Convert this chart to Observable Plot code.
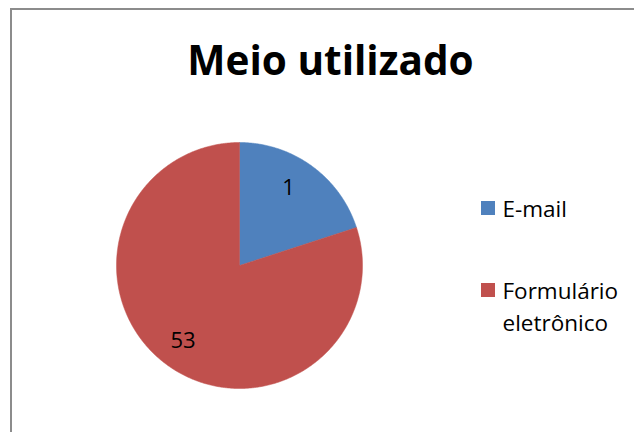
<!DOCTYPE html>
<html>
<head>
<meta charset="utf-8">
<script src="https://cdn.jsdelivr.net/npm/d3@7"></script>
<script src="https://cdn.jsdelivr.net/npm/@observablehq/plot@0.6"></script>
<style>
  html, body { margin: 0; padding: 0; background: #fff; }
  #chart svg { display: block; font-variant-ligatures: none; }
</style>
</head>
<body>
<div id="chart"></div>
<script>
// ---- data ----
const title = "Meio utilizado";
const categories = ["E-mail", "Formulário eletrônico"];
const legendLines = [["E-mail"], ["Formulário", "eletrônico"]];
const dataLabels = ["1", "53"];
// angular share of each slice as drawn in the picture (percent)
const sliceShares = [20, 80];
const colors = ["#4F81BD", "#C0504D"];

// ---- layout ----
const W = 634, H = 432;
const cx = 239, cy = 265, R = 123;
const font = "'Open Sans', 'Noto Sans', sans-serif";

const arcs = d3.pie().sort(null).value(d => d)(sliceShares);

function slicePolygon(a, i) {
  const pts = [{x: cx, y: cy, i}];
  const n = Math.max(8, Math.ceil((a.endAngle - a.startAngle) / (Math.PI / 360)));
  for (let k = 0; k <= n; k++) {
    const t = a.startAngle + (a.endAngle - a.startAngle) * k / n;
    pts.push({x: cx + R * Math.sin(t), y: cy - R * Math.cos(t), i});
  }
  pts.push({x: cx, y: cy, i});
  return pts;
}

const sliceMarks = arcs.map((a, i) =>
  Plot.line(slicePolygon(a, i), {x: "x", y: "y", fill: colors[i], stroke: colors[i], strokeWidth: 0.5})
);

// data label anchor points (inside slices)
const labelPos = [{x: 288, y: 194}, {x: 182.5, y: 347}];
const labelData = dataLabels.map((t, i) => ({t, x: labelPos[i].x, y: labelPos[i].y}));

// legend
const legendY = [201, 283];
const legendSquares = categories.map((c, i) => ({c, x1: 481, x2: 495, y1: legendY[i], y2: legendY[i] + 14, color: colors[i]}));
const legendText = [];
legendLines.forEach((lines, i) => lines.forEach((t, j) => legendText.push({t, x: 502, y: legendY[i] + 15.5 + j * 32})));

const chart = Plot.plot({
  width: W, height: H,
  margin: 0,
  x: {domain: [0, W], range: [0, W], axis: null},
  y: {domain: [0, H], range: [0, H], axis: null},
  style: {background: "#fff"},
  marks: [
    // chart area border
    Plot.rect([{x1: 11, x2: W + 10, y1: 9, y2: H + 10}], {x1: "x1", x2: "x2", y1: "y1", y2: "y2", fill: "none", stroke: "#8c8c8c", strokeWidth: 2}),
    ...sliceMarks,
    Plot.text(labelData, {x: "x", y: "y", text: "t", fontSize: 22, fill: "#000", textAnchor: "middle", lineAnchor: "bottom", fontFamily: font}),
    Plot.rect(legendSquares, {x1: "x1", x2: "x2", y1: "y1", y2: "y2", fill: "color"}),
    Plot.text(legendText, {x: "x", y: "y", text: "t", fontSize: 22.5, fill: "#000", textAnchor: "start", lineAnchor: "bottom", fontFamily: font}),
    Plot.text([title], {x: 330, y: 74, text: d => d, fontSize: 40.5, fontWeight: "bold", fill: "#000", textAnchor: "middle", lineAnchor: "bottom", fontFamily: font})
  ]
});
document.getElementById("chart").appendChild(chart);
</script>
</body>
</html>
